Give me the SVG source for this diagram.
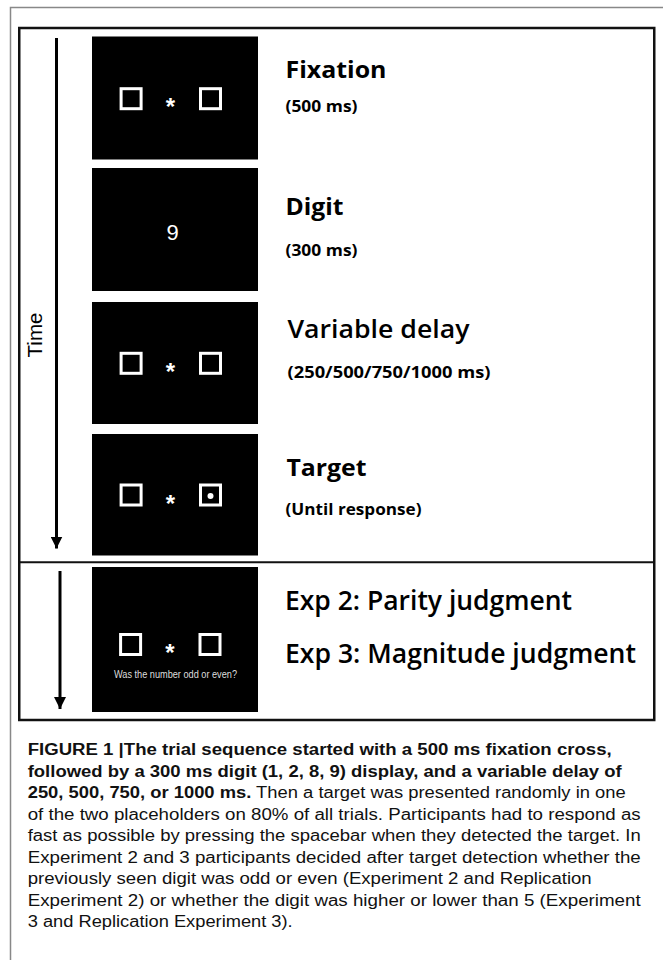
<svg xmlns="http://www.w3.org/2000/svg" xmlns:xlink="http://www.w3.org/1999/xlink" width="663" height="960" viewBox="0 0 663 960">
<style>
.panel{fill:#000}
.sq{fill:none;stroke:#fff;stroke-width:3}
.ast{font-family:"Liberation Sans",Arial,sans-serif;font-weight:700;font-size:24px;fill:#fff;text-anchor:middle}
.title{font-family:"Open Sans","Noto Sans",sans-serif;font-weight:700;font-size:24px;fill:#000}
.mid{font-family:"Open Sans","Noto Sans",sans-serif;font-weight:600;font-size:24.5px;fill:#000}
.big{font-family:"Open Sans","Noto Sans",sans-serif;font-weight:600;font-size:26.5px;fill:#000}
.sub{font-family:"Open Sans","Noto Sans",sans-serif;font-weight:700;font-size:15.5px;fill:#000}
.cap{font-family:"Liberation Sans",Arial,sans-serif;font-size:16px;fill:#111}
.b{font-weight:700}
.conn{stroke:#000;stroke-width:3;fill:none}
</style>
<defs>
<g id="stim">
<rect class="sq" x="-49.7" y="-10" width="20" height="20"/>
<rect class="sq" x="29.7" y="-10" width="20" height="20"/>
<text class="ast" x="-0.4" y="16.7">*</text>
</g>
<marker id="ah" viewBox="0 0 12 12" refX="12" refY="6" markerWidth="12" markerHeight="12" markerUnits="userSpaceOnUse" orient="auto">
<path d="M0,0 L12,6 L0,12 Z" fill="#000"/>
</marker>
</defs>
<rect width="663" height="960" fill="#fff"/>
<path d="M10.5,960 V7.5 H663" fill="none" stroke="#888" stroke-width="1.5"/>
<rect x="19.25" y="28" width="635" height="692" fill="none" stroke="#111" stroke-width="2.5"/>
<line x1="19" y1="562.3" x2="654.5" y2="562.3" stroke="#111" stroke-width="2"/>

<g id="connectors">
<line class="conn" x1="56.5" y1="38" x2="56.5" y2="548.5" marker-end="url(#ah)"/>
<line class="conn" x1="60" y1="571" x2="60" y2="709" marker-end="url(#ah)"/>
</g>
<text id="time-label" transform="translate(42,335) rotate(-90)" text-anchor="middle" font-family="Liberation Sans,Arial,sans-serif" font-size="20.5" fill="#000">Time</text>

<g id="fixation">
<rect class="panel" x="92" y="36.5" width="166" height="123"/>
<use xlink:href="#stim" href="#stim" transform="translate(170.8,98.7)"/>
<text class="title" x="285.5" y="78.3" textLength="101" lengthAdjust="spacingAndGlyphs">Fixation</text>
<text class="sub" x="285.5" y="112" textLength="72" lengthAdjust="spacingAndGlyphs">(500 ms)</text>
</g>

<g id="digit">
<rect class="panel" x="92" y="168" width="166" height="123"/>
<text x="172.5" y="239.5" text-anchor="middle" font-family="Liberation Sans,Arial,sans-serif" font-size="22" fill="#fff">9</text>
<text class="title" x="285.5" y="215" textLength="58" lengthAdjust="spacingAndGlyphs">Digit</text>
<text class="sub" x="285.5" y="256" textLength="72" lengthAdjust="spacingAndGlyphs">(300 ms)</text>
</g>

<g id="variable-delay">
<rect class="panel" x="92" y="302" width="166" height="122"/>
<use xlink:href="#stim" href="#stim" transform="translate(170.8,363.3)"/>
<text class="mid" x="287.5" y="338.3" textLength="182" lengthAdjust="spacingAndGlyphs">Variable delay</text>
<text class="sub" x="287.5" y="377.5" textLength="203" lengthAdjust="spacingAndGlyphs">(250/500/750/1000 ms)</text>
</g>

<g id="target">
<rect class="panel" x="92" y="434" width="166" height="121.5"/>
<use xlink:href="#stim" href="#stim" transform="translate(170.8,495)"/>
<circle cx="210.5" cy="496" r="3" fill="#fff"/>
<text class="title" x="286.5" y="476" textLength="80" lengthAdjust="spacingAndGlyphs">Target</text>
<text class="sub" x="285.5" y="514.5" textLength="136" lengthAdjust="spacingAndGlyphs">(Until response)</text>
</g>

<g id="judgment">
<rect class="panel" x="92" y="567" width="166" height="145"/>
<use xlink:href="#stim" href="#stim" transform="translate(170.3,644.5)"/>
<text x="175.5" y="678" text-anchor="middle" font-family="Liberation Sans,Arial,sans-serif" font-size="10" fill="#ddd" textLength="123" lengthAdjust="spacingAndGlyphs">Was the number odd or even?</text>
<text class="big" x="285" y="609.5" textLength="287" lengthAdjust="spacingAndGlyphs">Exp 2: Parity judgment</text>
<text class="big" x="285" y="662.5" textLength="351" lengthAdjust="spacingAndGlyphs">Exp 3: Magnitude judgment</text>
</g>

<g id="caption">
<text class="cap b" x="27.7" y="755" textLength="584" lengthAdjust="spacingAndGlyphs">FIGURE 1 |The trial sequence started with a 500 ms fixation cross,</text>
<text class="cap b" x="27.7" y="776.5" textLength="594" lengthAdjust="spacingAndGlyphs">followed by a 300 ms digit (1, 2, 8, 9) display, and a variable delay of</text>
<text class="cap" x="27.7" y="798" textLength="598" lengthAdjust="spacingAndGlyphs"><tspan class="b">250, 500, 750, or 1000 ms.</tspan> Then a target was presented randomly in one</text>
<text class="cap" x="27.7" y="819.5" textLength="613" lengthAdjust="spacingAndGlyphs">of the two placeholders on 80% of all trials. Participants had to respond as</text>
<text class="cap" x="27.7" y="841" textLength="613" lengthAdjust="spacingAndGlyphs">fast as possible by pressing the spacebar when they detected the target. In</text>
<text class="cap" x="27.7" y="862.5" textLength="613" lengthAdjust="spacingAndGlyphs">Experiment 2 and 3 participants decided after target detection whether the</text>
<text class="cap" x="27.7" y="884" textLength="564" lengthAdjust="spacingAndGlyphs">previously seen digit was odd or even (Experiment 2 and Replication</text>
<text class="cap" x="27.7" y="905.5" textLength="613" lengthAdjust="spacingAndGlyphs">Experiment 2) or whether the digit was higher or lower than 5 (Experiment</text>
<text class="cap" x="27.7" y="927" textLength="265" lengthAdjust="spacingAndGlyphs">3 and Replication Experiment 3).</text>
</g>
</svg>
